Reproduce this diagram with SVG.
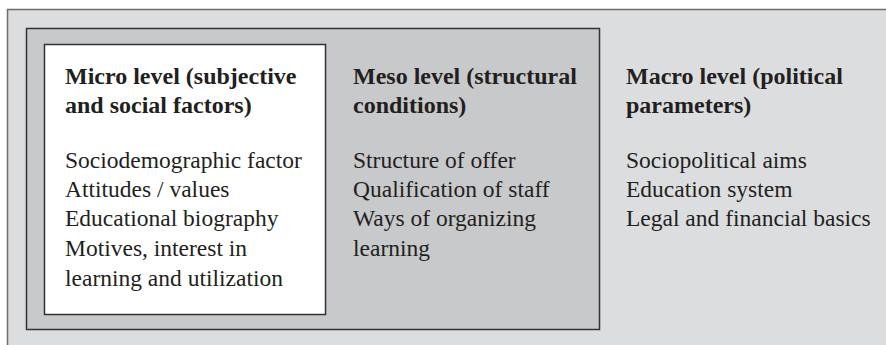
<svg xmlns="http://www.w3.org/2000/svg" width="886" height="345" viewBox="0 0 886 345">
<style>
.h{font-family:"Liberation Serif","Times New Roman",serif;font-weight:bold;font-size:24px;fill:#231f20}
.t{font-family:"Liberation Serif","Times New Roman",serif;font-size:23.5px;fill:#231f20}
</style>
<rect width="886" height="345" fill="#ffffff"/>
<g id="macro">
<rect x="7.5" y="9.5" width="900" height="400" fill="#dcdddf" stroke="#6e6e6e" stroke-width="1.5"/>
<text class="h" x="626" y="84">Macro level (political</text>
<text class="h" x="626" y="113">parameters)</text>
<text class="t" x="626" y="168">Sociopolitical aims</text>
<text class="t" x="626" y="197">Education system</text>
<text class="t" x="626" y="226">Legal and financial basics</text>
</g>
<g id="meso">
<rect x="26.5" y="28.5" width="573" height="301" fill="#c8c9cb" stroke="#333" stroke-width="1.5"/>
<text class="h" x="353" y="84">Meso level (structural</text>
<text class="h" x="353" y="113">conditions)</text>
<text class="t" x="353" y="168">Structure of offer</text>
<text class="t" x="353" y="197">Qualification of staff</text>
<text class="t" x="353" y="226">Ways of organizing</text>
<text class="t" x="353" y="256">learning</text>
</g>
<g id="micro">
<rect x="44.5" y="44.5" width="281" height="270" fill="#ffffff" stroke="#333" stroke-width="1.5"/>
<text class="h" x="65" y="84">Micro level (subjective</text>
<text class="h" x="65" y="113">and social factors)</text>
<text class="t" x="65" y="168">Sociodemographic factor</text>
<text class="t" x="65" y="197">Attitudes / values</text>
<text class="t" x="65" y="226">Educational biography</text>
<text class="t" x="65" y="256">Motives, interest in</text>
<text class="t" x="65" y="286">learning and utilization</text>
</g>
<g id="connectors"></g>
</svg>
